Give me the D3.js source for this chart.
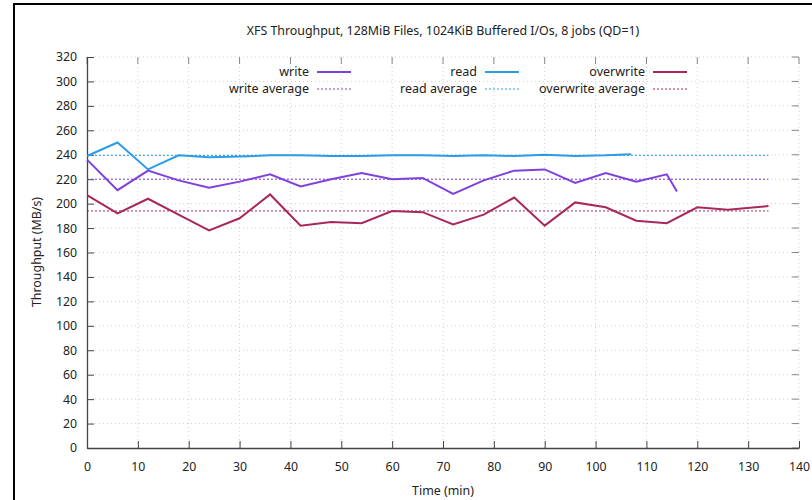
<!DOCTYPE html>
<html>
<head>
<meta charset="utf-8">
<script src="https://cdn.jsdelivr.net/npm/d3@7"></script>
<style>
	body { margin: 0; background: white; }
	text { font-family: "Noto Sans", sans-serif; }
</style>
</head>
<body>
<script>
const title = "XFS Throughput, 128MiB Files, 1024KiB Buffered I/Os, 8 jobs (QD=1)";
const xTicks = d3.range(0, 141, 10);
const yTicks = d3.range(0, 321, 20);

const writeX = [0, 6, 12, 18, 24, 30, 36, 42, 48, 54, 60, 66, 72, 78, 84, 90, 96, 102, 108, 114, 116];
const writeY = [236, 211, 227, 219, 213, 218, 224, 214, 220, 225, 220, 221, 208, 219, 227, 228, 217, 225, 218, 224, 210];

const readX = [0, 6, 12, 18, 24, 30, 36, 42, 48, 54, 60, 66, 72, 78, 84, 90, 96, 102, 107];
const readY = [239, 250, 228, 239.5, 238, 238.5, 239.5, 239.5, 239, 239, 239.5, 239.5, 239, 239.5, 239, 240, 239, 239.5, 240.5];

const overX = [0, 6, 12, 18, 24, 30, 36, 42, 48, 54, 60, 66, 72, 78, 84, 90, 96, 102, 108, 114, 120, 126, 134];
const overY = [207, 192, 204, 191, 178, 188, 207.5, 182, 185, 184, 194, 193, 183, 191, 205, 182, 201, 197, 186, 184, 197, 195, 198];

const averages = [220, 239.5, 194];
const avgRange = [0, 134];

const names = ["write", "read", "overwrite"];
const colors = ["#8040dc", "#2a9de6", "#a8285c"];

function init(){
	const svg = d3.select("body").append("svg")
		.attr("width", 812)
		.attr("height", 500);

	// outer frame
	svg.append("rect")
		.attr("x", 14).attr("y", 4)
		.attr("width", 900).attr("height", 600)
		.attr("fill", "white")
		.attr("stroke", "black")
		.attr("stroke-width", 2);

	const x = d3.scaleLinear().domain([0, 140]).range([87, 799]);
	const y = d3.scaleLinear().domain([0, 320]).range([448, 57]);

	// grid
	svg.append("g").selectAll("line").data(xTicks.slice(1)).join("line")
		.attr("x1", d => x(d)).attr("x2", d => x(d))
		.attr("y1", y(0)).attr("y2", y(320))
		.attr("stroke", "#d0d0d0").attr("stroke-dasharray", "1,3");
	svg.append("g").selectAll("line").data(yTicks.slice(1)).join("line")
		.attr("x1", x(0)).attr("x2", x(140))
		.attr("y1", d => y(d)).attr("y2", d => y(d))
		.attr("stroke", "#d0d0d0").attr("stroke-dasharray", "1,3");

	// top and right ticks
	svg.append("g").selectAll("line").data(xTicks).join("line")
		.attr("x1", d => x(d)).attr("x2", d => x(d))
		.attr("y1", y(320)).attr("y2", y(320) + 7)
		.attr("stroke", "#888");
	svg.append("g").selectAll("line").data(yTicks).join("line")
		.attr("x1", x(140)).attr("x2", x(140) - 7)
		.attr("y1", d => y(d)).attr("y2", d => y(d))
		.attr("stroke", "#888");

	// axes
	const xAxis = svg.append("g")
		.attr("transform", `translate(0,${y(0)})`)
		.call(d3.axisBottom(x).tickValues(xTicks).tickSizeInner(-7).tickSizeOuter(0).tickPadding(14));
	const yAxis = svg.append("g")
		.attr("transform", `translate(${x(0)},0)`)
		.call(d3.axisLeft(y).tickValues(yTicks).tickSizeInner(-7).tickSizeOuter(0).tickPadding(10));
	[xAxis, yAxis].forEach(a => {
		a.select(".domain").attr("stroke", "#444").attr("stroke-width", 1.3);
		a.selectAll(".tick line").attr("stroke", "#444");
		a.selectAll("text").attr("font-size", 12.3).attr("fill", "#222")
			.style("font-family", "'Noto Sans', sans-serif");
	});

	// averages
	averages.forEach((v, i) => {
		svg.append("line")
			.attr("x1", x(avgRange[0])).attr("x2", x(avgRange[1]))
			.attr("y1", y(v)).attr("y2", y(v))
			.attr("stroke", colors[i]).attr("stroke-width", 1)
			.attr("stroke-dasharray", "2,2");
	});

	// series
	const line = d3.line().x(d => x(d[0])).y(d => y(d[1]));
	const series = [
		d3.zip(writeX, writeY),
		d3.zip(readX, readY),
		d3.zip(overX, overY)
	];
	series.forEach((s, i) => {
		svg.append("path")
			.attr("d", line(s))
			.attr("fill", "none")
			.attr("stroke", colors[i])
			.attr("stroke-width", 2);
	});

	// legend
	const colEnd = [309, 477, 645];
	names.forEach((n, i) => {
		const g = svg.append("g");
		g.append("text")
			.attr("x", colEnd[i]).attr("y", 76)
			.attr("text-anchor", "end").attr("font-size", 12.5).attr("fill", "#222")
			.text(n);
		g.append("line")
			.attr("x1", colEnd[i] + 8).attr("x2", colEnd[i] + 42)
			.attr("y1", 72).attr("y2", 72)
			.attr("stroke", colors[i]).attr("stroke-width", 2);
		g.append("text")
			.attr("x", colEnd[i]).attr("y", 93)
			.attr("text-anchor", "end").attr("font-size", 12.5).attr("fill", "#222")
			.text(n + " average");
		g.append("line")
			.attr("x1", colEnd[i] + 8).attr("x2", colEnd[i] + 42)
			.attr("y1", 89).attr("y2", 89)
			.attr("stroke", colors[i]).attr("stroke-width", 1)
			.attr("stroke-dasharray", "2,2");
	});

	// titles
	svg.append("text")
		.attr("x", 443).attr("y", 35)
		.attr("text-anchor", "middle").attr("font-size", 12.4).attr("fill", "#222")
		.text(title);
	svg.append("text")
		.attr("x", 443).attr("y", 495)
		.attr("text-anchor", "middle").attr("font-size", 12.4).attr("fill", "#222")
		.text("Time (min)");
	svg.append("text")
		.attr("transform", "translate(41,252) rotate(-90)")
		.attr("text-anchor", "middle").attr("font-size", 12.4).attr("fill", "#222")
		.text("Throughput (MB/s)");
}
init();
</script>
</body>
</html>
